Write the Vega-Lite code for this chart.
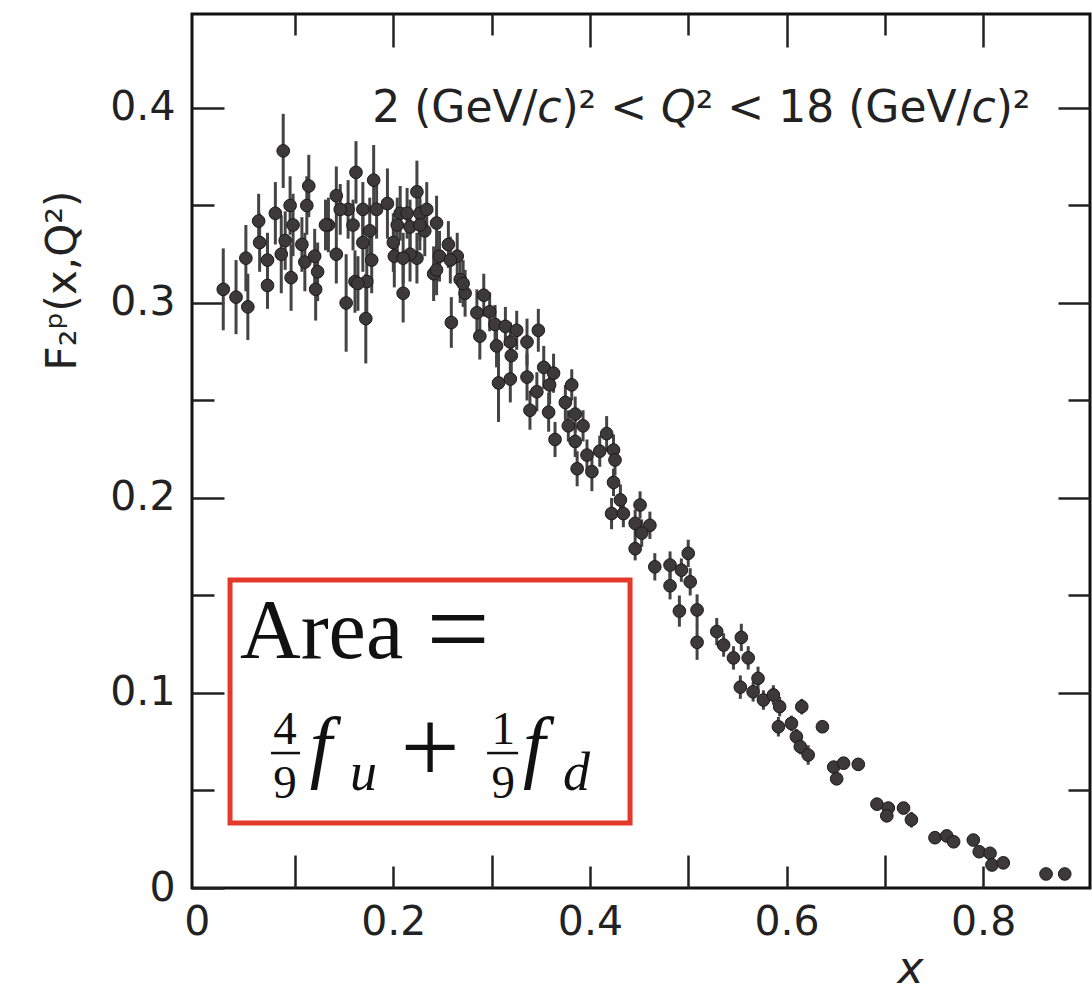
{
  "$schema": "https://vega.github.io/schema/vega-lite/v6.json",
  "width": 898,
  "height": 874,
  "autosize": {"type": "none"},
  "padding": {"left": 192, "top": 14, "right": 2, "bottom": 104},
  "background": "white",
  "config": {
    "view": {"stroke": "#111111", "strokeWidth": 3},
    "axis": {
      "grid": false,
      "domain": false,
      "labelFont": "DejaVu Sans",
      "labelFontSize": 41,
      "labelColor": "#222222",
      "tickColor": "#222222",
      "tickWidth": 2.5,
      "titleFont": "DejaVu Sans",
      "titleFontWeight": "normal",
      "titleColor": "#222222",
      "labelOverlap": false,
      "labelFlush": false
    }
  },
  "datasets": {
    "pts": [
      {"x":0.027,"y":0.307,"e":0.021},{"x":0.040,"y":0.303,"e":0.019},{"x":0.052,"y":0.298,"e":0.017},
      {"x":0.050,"y":0.323,"e":0.017},{"x":0.063,"y":0.342,"e":0.014},{"x":0.064,"y":0.331,"e":0.015},
      {"x":0.072,"y":0.322,"e":0.014},{"x":0.072,"y":0.309,"e":0.012},{"x":0.080,"y":0.346,"e":0.016},
      {"x":0.088,"y":0.378,"e":0.019},{"x":0.086,"y":0.325,"e":0.020},{"x":0.090,"y":0.332,"e":0.015},
      {"x":0.095,"y":0.350,"e":0.015},{"x":0.098,"y":0.340,"e":0.016},{"x":0.096,"y":0.313,"e":0.017},
      {"x":0.107,"y":0.330,"e":0.014},{"x":0.112,"y":0.350,"e":0.015},{"x":0.114,"y":0.360,"e":0.016},
      {"x":0.110,"y":0.321,"e":0.015},{"x":0.120,"y":0.324,"e":0.014},{"x":0.123,"y":0.316,"e":0.015},
      {"x":0.121,"y":0.307,"e":0.016},{"x":0.134,"y":0.340,"e":0.014},{"x":0.142,"y":0.355,"e":0.015},
      {"x":0.142,"y":0.325,"e":0.015},{"x":0.154,"y":0.348,"e":0.015},{"x":0.152,"y":0.300,"e":0.025},
      {"x":0.159,"y":0.340,"e":0.013},{"x":0.162,"y":0.367,"e":0.016},{"x":0.161,"y":0.311,"e":0.016},
      {"x":0.169,"y":0.331,"e":0.015},{"x":0.172,"y":0.292,"e":0.023},{"x":0.173,"y":0.311,"e":0.018},
      {"x":0.176,"y":0.337,"e":0.017},{"x":0.180,"y":0.363,"e":0.018},{"x":0.178,"y":0.322,"e":0.017},
      {"x":0.183,"y":0.348,"e":0.015},{"x":0.194,"y":0.351,"e":0.018},{"x":0.200,"y":0.331,"e":0.015},
      {"x":0.201,"y":0.324,"e":0.016},{"x":0.210,"y":0.305,"e":0.015},{"x":0.207,"y":0.346,"e":0.014},
      {"x":0.217,"y":0.339,"e":0.014},{"x":0.224,"y":0.357,"e":0.016},{"x":0.227,"y":0.346,"e":0.014},
      {"x":0.224,"y":0.323,"e":0.013},{"x":0.217,"y":0.325,"e":0.014},{"x":0.234,"y":0.348,"e":0.014},
      {"x":0.232,"y":0.337,"e":0.013},{"x":0.244,"y":0.341,"e":0.014},{"x":0.241,"y":0.315,"e":0.014},
      {"x":0.247,"y":0.324,"e":0.013},{"x":0.256,"y":0.330,"e":0.012},{"x":0.265,"y":0.324,"e":0.012},
      {"x":0.259,"y":0.290,"e":0.013},{"x":0.268,"y":0.312,"e":0.012},{"x":0.273,"y":0.305,"e":0.012},
      {"x":0.285,"y":0.295,"e":0.012},{"x":0.288,"y":0.283,"e":0.012},{"x":0.292,"y":0.304,"e":0.011},
      {"x":0.131,"y":0.340,"e":0.013},{"x":0.146,"y":0.348,"e":0.013},{"x":0.169,"y":0.348,"e":0.014},
      {"x":0.164,"y":0.310,"e":0.014},{"x":0.214,"y":0.346,"e":0.013},{"x":0.227,"y":0.340,"e":0.013},
      {"x":0.210,"y":0.323,"e":0.013},{"x":0.204,"y":0.340,"e":0.014},{"x":0.244,"y":0.317,"e":0.013},
      {"x":0.258,"y":0.322,"e":0.012},{"x":0.271,"y":0.310,"e":0.012},
      {"x":0.298,"y":0.2955,"e":0.010},{"x":0.3035,"y":0.289,"e":0.010},{"x":0.314,"y":0.288,"e":0.010},
      {"x":0.3255,"y":0.286,"e":0.010},{"x":0.3475,"y":0.286,"e":0.011},{"x":0.305,"y":0.278,"e":0.011},
      {"x":0.319,"y":0.280,"e":0.010},{"x":0.336,"y":0.280,"e":0.012},{"x":0.320,"y":0.273,"e":0.010},
      {"x":0.307,"y":0.259,"e":0.020},{"x":0.319,"y":0.261,"e":0.012},{"x":0.336,"y":0.262,"e":0.012},
      {"x":0.353,"y":0.267,"e":0.011},{"x":0.363,"y":0.264,"e":0.010},{"x":0.359,"y":0.258,"e":0.010},
      {"x":0.346,"y":0.2545,"e":0.010},{"x":0.339,"y":0.245,"e":0.010},{"x":0.358,"y":0.244,"e":0.010},
      {"x":0.3815,"y":0.258,"e":0.008},{"x":0.375,"y":0.249,"e":0.009},{"x":0.385,"y":0.243,"e":0.009},
      {"x":0.378,"y":0.237,"e":0.008},{"x":0.393,"y":0.237,"e":0.008},{"x":0.3645,"y":0.230,"e":0.009},
      {"x":0.385,"y":0.229,"e":0.008},{"x":0.417,"y":0.233,"e":0.009},{"x":0.397,"y":0.222,"e":0.008},
      {"x":0.410,"y":0.224,"e":0.008},{"x":0.424,"y":0.2246,"e":0.008},{"x":0.387,"y":0.215,"e":0.009},
      {"x":0.402,"y":0.2135,"e":0.010},{"x":0.4255,"y":0.2195,"e":0.008},{"x":0.424,"y":0.208,"e":0.007},
      {"x":0.431,"y":0.199,"e":0.008},{"x":0.422,"y":0.192,"e":0.008},{"x":0.434,"y":0.192,"e":0.007},
      {"x":0.451,"y":0.1964,"e":0.007},{"x":0.446,"y":0.187,"e":0.007},{"x":0.461,"y":0.186,"e":0.007},
      {"x":0.4527,"y":0.182,"e":0.007},{"x":0.446,"y":0.174,"e":0.006},{"x":0.466,"y":0.1647,"e":0.007},
      {"x":0.4815,"y":0.1656,"e":0.007},{"x":0.500,"y":0.1716,"e":0.007},{"x":0.493,"y":0.163,"e":0.006},
      {"x":0.4815,"y":0.155,"e":0.007},{"x":0.502,"y":0.157,"e":0.007},{"x":0.491,"y":0.142,"e":0.008},
      {"x":0.509,"y":0.1426,"e":0.008},{"x":0.509,"y":0.126,"e":0.009},{"x":0.529,"y":0.1315,"e":0.007},
      {"x":0.554,"y":0.1285,"e":0.007},{"x":0.536,"y":0.1246,"e":0.006},{"x":0.546,"y":0.118,"e":0.006},
      {"x":0.561,"y":0.118,"e":0.006},{"x":0.553,"y":0.103,"e":0.006},{"x":0.571,"y":0.1075,"e":0.006},
      {"x":0.566,"y":0.1006,"e":0.005},{"x":0.5765,"y":0.0964,"e":0.005},{"x":0.5866,"y":0.099,"e":0.005},
      {"x":0.593,"y":0.093,"e":0.005},{"x":0.6155,"y":0.093,"e":0.004},{"x":0.5917,"y":0.0827,"e":0.005},
      {"x":0.605,"y":0.0844,"e":0.004},{"x":0.610,"y":0.0776,"e":0.004},{"x":0.614,"y":0.0725,"e":0.004},
      {"x":0.622,"y":0.0682,"e":0.005},{"x":0.6365,"y":0.0827,"e":0.003},{"x":0.648,"y":0.062,"e":0.003},
      {"x":0.658,"y":0.064,"e":0.003},{"x":0.651,"y":0.056,"e":0.003},{"x":0.673,"y":0.0634,"e":0.003},
      {"x":0.692,"y":0.043,"e":0.003},{"x":0.7035,"y":0.041,"e":0.003},{"x":0.702,"y":0.037,"e":0.003},
      {"x":0.719,"y":0.041,"e":0.003},{"x":0.727,"y":0.035,"e":0.004},{"x":0.751,"y":0.0258,"e":0.002},
      {"x":0.763,"y":0.0267,"e":0.002},{"x":0.770,"y":0.0237,"e":0.002},{"x":0.790,"y":0.0246,"e":0.002},
      {"x":0.796,"y":0.0186,"e":0.002},{"x":0.807,"y":0.0178,"e":0.002},{"x":0.809,"y":0.0118,"e":0.002},
      {"x":0.8205,"y":0.0129,"e":0.002},{"x":0.864,"y":0.0072,"e":0.002},{"x":0.883,"y":0.0072,"e":0.002}
    ]
  },
  "layer": [
    {
      "data": {"name": "pts"},
      "mark": {"type": "errorbar", "rule": {"stroke": "#444444", "strokeWidth": 3}},
      "encoding": {
        "x": {"field": "x", "type": "quantitative", "axis": null},
        "y": {"field": "y", "type": "quantitative", "axis": null},
        "yError": {"field": "e"}
      }
    },
    {
      "data": {"name": "pts"},
      "mark": {"type": "circle", "size": 160, "fill": "#3b3939", "stroke": "#1a1a1a", "strokeWidth": 1, "opacity": 1},
      "encoding": {
        "x": {
          "field": "x", "type": "quantitative",
          "scale": {"domain": [-0.0048, 0.9087], "nice": false, "zero": false},
          "axis": {
            "orient": "bottom",
            "values": [0, 0.1, 0.2, 0.3, 0.4, 0.5, 0.6, 0.7, 0.8],
            "labelExpr": "datum.value == 0 ? '0' : (round(datum.value*10) % 2 == 0 ? format(datum.value, '.1f') : '')",
            "tickSize": {"condition": [{"test": "datum.value == 0", "value": 0}, {"test": "round(datum.value*10) % 2 == 1", "value": -33}], "value": -22},
            "labelPadding": {"condition": {"test": "datum.value == 0", "value": 14}, "value": 36},
            "title": "x",
            "titleFontStyle": "italic",
            "titleFontSize": 44,
            "titleX": 718,
            "titleY": 94,
            "titleAlign": "center",
            "titleBaseline": "alphabetic"
          }
        },
        "y": {
          "field": "y", "type": "quantitative",
          "scale": {"domain": [0, 0.4482], "nice": false, "zero": false},
          "axis": {
            "orient": "left",
            "values": [0, 0.05, 0.1, 0.15, 0.2, 0.25, 0.3, 0.35, 0.4],
            "labelExpr": "round(datum.value*100) % 10 == 0 ? (datum.value == 0 ? '0' : format(datum.value, '.1f')) : ''",
            "tickSize": {"condition": {"test": "round(datum.value*100) % 10 == 0", "value": -32}, "value": -22},
            "labelPadding": 49,
            "title": "F₂ᵖ(x,Q²)",
            "titleFontSize": 42,
            "titleX": -117,
            "titleY": 266,
            "titleAngle": 270,
            "titleAlign": "center",
            "titleBaseline": "alphabetic"
          }
        }
      }
    },
    {
      "data": {"values": [{}]},
      "mark": {"type": "rect", "filled": false, "stroke": "#e2392b", "strokeWidth": 5},
      "encoding": {
        "x": {"datum": 0.0339, "type": "quantitative",
          "axis": {"orient": "top", "values": [0.1, 0.2, 0.3, 0.4, 0.5, 0.6, 0.7, 0.8], "labels": false, "title": null,
            "tickSize": {"condition": {"test": "round(datum.value*10) % 2 == 0", "value": -33}, "value": -21}}},
        "x2": {"datum": 0.4408},
        "y": {"datum": 0.1579, "type": "quantitative",
          "axis": {"orient": "right", "values": [0.05, 0.1, 0.15, 0.2, 0.25, 0.3, 0.35, 0.4], "labels": false, "title": null,
            "tickSize": {"condition": {"test": "round(datum.value*100) % 10 == 0", "value": -32}, "value": -22}}},
        "y2": {"datum": 0.0333}
      }
    },
    {
      "data": {"values": [{}]},
      "mark": {"type": "text", "font": "Liberation Serif", "fontSize": 84, "align": "left", "baseline": "alphabetic", "color": "#111111"},
      "encoding": {"x": {"datum": 0.0440, "type": "quantitative", "axis": null}, "y": {"datum": 0.1179, "type": "quantitative", "axis": null}, "text": {"value": "Area"}}
    },
    {
      "data": {"values": [{}]},
      "mark": {"type": "text", "font": "Liberation Serif", "fontSize": 112, "align": "center", "baseline": "alphabetic", "color": "#111111"},
      "encoding": {"x": {"datum": 0.2659, "type": "quantitative", "axis": null}, "y": {"datum": 0.1141, "type": "quantitative", "axis": null}, "text": {"value": "="}}
    },
    {
      "data": {"values": [{}]},
      "mark": {"type": "text", "font": "Liberation Serif", "fontSize": 47, "align": "center", "baseline": "alphabetic", "color": "#111111"},
      "encoding": {"x": {"datum": 0.0898, "type": "quantitative", "axis": null}, "y": {"datum": 0.0738, "type": "quantitative", "axis": null}, "text": {"value": "4"}}
    },
    {
      "data": {"values": [{}]},
      "mark": {"type": "text", "font": "Liberation Serif", "fontSize": 47, "align": "center", "baseline": "alphabetic", "color": "#111111"},
      "encoding": {"x": {"datum": 0.0898, "type": "quantitative", "axis": null}, "y": {"datum": 0.0462, "type": "quantitative", "axis": null}, "text": {"value": "9"}}
    },
    {
      "data": {"values": [{}]},
      "mark": {"type": "rule", "color": "#111111", "strokeWidth": 2.5},
      "encoding": {"x": {"datum": 0.0756, "type": "quantitative", "axis": null}, "x2": {"datum": 0.1051}, "y": {"datum": 0.0692, "type": "quantitative", "axis": null}}
    },
    {
      "data": {"values": [{}]},
      "mark": {"type": "text", "font": "Liberation Serif", "fontSize": 80, "fontStyle": "italic", "align": "left", "baseline": "alphabetic", "color": "#111111"},
      "encoding": {"x": {"datum": 0.1150, "type": "quantitative", "axis": null}, "y": {"datum": 0.0590, "type": "quantitative", "axis": null}, "text": {"value": "f"}}
    },
    {
      "data": {"values": [{}]},
      "mark": {"type": "text", "font": "Liberation Serif", "fontSize": 54, "fontStyle": "italic", "align": "left", "baseline": "alphabetic", "color": "#111111"},
      "encoding": {"x": {"datum": 0.1559, "type": "quantitative", "axis": null}, "y": {"datum": 0.0503, "type": "quantitative", "axis": null}, "text": {"value": "u"}}
    },
    {
      "data": {"values": [{}]},
      "mark": {"type": "text", "font": "Liberation Serif", "fontSize": 105, "align": "center", "baseline": "alphabetic", "color": "#111111"},
      "encoding": {"x": {"datum": 0.2374, "type": "quantitative", "axis": null}, "y": {"datum": 0.0538, "type": "quantitative", "axis": null}, "text": {"value": "+"}}
    },
    {
      "data": {"values": [{}]},
      "mark": {"type": "text", "font": "Liberation Serif", "fontSize": 47, "align": "center", "baseline": "alphabetic", "color": "#111111"},
      "encoding": {"x": {"datum": 0.3117, "type": "quantitative", "axis": null}, "y": {"datum": 0.0738, "type": "quantitative", "axis": null}, "text": {"value": "1"}}
    },
    {
      "data": {"values": [{}]},
      "mark": {"type": "text", "font": "Liberation Serif", "fontSize": 47, "align": "center", "baseline": "alphabetic", "color": "#111111"},
      "encoding": {"x": {"datum": 0.3117, "type": "quantitative", "axis": null}, "y": {"datum": 0.0462, "type": "quantitative", "axis": null}, "text": {"value": "9"}}
    },
    {
      "data": {"values": [{}]},
      "mark": {"type": "rule", "color": "#111111", "strokeWidth": 2.5},
      "encoding": {"x": {"datum": 0.2954, "type": "quantitative", "axis": null}, "x2": {"datum": 0.3269}, "y": {"datum": 0.0692, "type": "quantitative", "axis": null}}
    },
    {
      "data": {"values": [{}]},
      "mark": {"type": "text", "font": "Liberation Serif", "fontSize": 80, "fontStyle": "italic", "align": "left", "baseline": "alphabetic", "color": "#111111"},
      "encoding": {"x": {"datum": 0.3320, "type": "quantitative", "axis": null}, "y": {"datum": 0.0590, "type": "quantitative", "axis": null}, "text": {"value": "f"}}
    },
    {
      "data": {"values": [{}]},
      "mark": {"type": "text", "font": "Liberation Serif", "fontSize": 54, "fontStyle": "italic", "align": "left", "baseline": "alphabetic", "color": "#111111"},
      "encoding": {"x": {"datum": 0.3727, "type": "quantitative", "axis": null}, "y": {"datum": 0.0503, "type": "quantitative", "axis": null}, "text": {"value": "d"}}
    },
    {
      "data": {"values": [{}]},
      "mark": {"type": "text", "font": "DejaVu Sans", "fontSize": 44, "align": "left", "baseline": "alphabetic", "color": "#222222"},
      "encoding": {"x": {"datum": 0.1785, "type": "quantitative", "axis": null}, "y": {"datum": 0.3928, "type": "quantitative", "axis": null}, "text": {"value": "2 (GeV/"}}
    },
    {
      "data": {"values": [{}]},
      "mark": {"type": "text", "font": "DejaVu Sans", "fontSize": 44, "fontStyle": "italic", "align": "left", "baseline": "alphabetic", "color": "#222222"},
      "encoding": {"x": {"datum": 0.3464, "type": "quantitative", "axis": null}, "y": {"datum": 0.3928, "type": "quantitative", "axis": null}, "text": {"value": "c"}}
    },
    {
      "data": {"values": [{}]},
      "mark": {"type": "text", "font": "DejaVu Sans", "fontSize": 44, "align": "left", "baseline": "alphabetic", "color": "#222222"},
      "encoding": {"x": {"datum": 0.3710, "type": "quantitative", "axis": null}, "y": {"datum": 0.3928, "type": "quantitative", "axis": null}, "text": {"value": ")² <"}}
    },
    {
      "data": {"values": [{}]},
      "mark": {"type": "text", "font": "DejaVu Sans", "fontSize": 44, "fontStyle": "italic", "align": "left", "baseline": "alphabetic", "color": "#222222"},
      "encoding": {"x": {"datum": 0.4724, "type": "quantitative", "axis": null}, "y": {"datum": 0.3928, "type": "quantitative", "axis": null}, "text": {"value": "Q"}}
    },
    {
      "data": {"values": [{}]},
      "mark": {"type": "text", "font": "DejaVu Sans", "fontSize": 44, "align": "left", "baseline": "alphabetic", "color": "#222222"},
      "encoding": {"x": {"datum": 0.5076, "type": "quantitative", "axis": null}, "y": {"datum": 0.3928, "type": "quantitative", "axis": null}, "text": {"value": "² < 18 (GeV/"}}
    },
    {
      "data": {"values": [{}]},
      "mark": {"type": "text", "font": "DejaVu Sans", "fontSize": 44, "fontStyle": "italic", "align": "left", "baseline": "alphabetic", "color": "#222222"},
      "encoding": {"x": {"datum": 0.7881, "type": "quantitative", "axis": null}, "y": {"datum": 0.3928, "type": "quantitative", "axis": null}, "text": {"value": "c"}}
    },
    {
      "data": {"values": [{}]},
      "mark": {"type": "text", "font": "DejaVu Sans", "fontSize": 44, "align": "left", "baseline": "alphabetic", "color": "#222222"},
      "encoding": {"x": {"datum": 0.8127, "type": "quantitative", "axis": null}, "y": {"datum": 0.3928, "type": "quantitative", "axis": null}, "text": {"value": ")²"}}
    }
  ],
  "resolve": {"axis": {"x": "independent", "y": "independent"}}
}
